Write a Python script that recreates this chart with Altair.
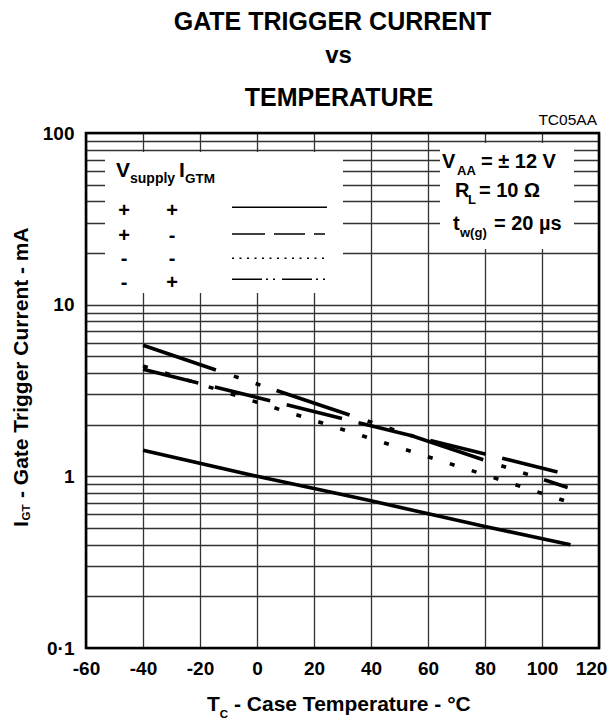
import glob
import altair as alt
import pandas as pd

# ---------------- data ----------------
x_ticks = [-60, -40, -20, 0, 20, 40, 60, 80, 100, 120]
x_tick_labels = ["-60", "-40", "-20", "0", "20", "40", "60", "80", "100", "120"]
y_grid = [0.1, 0.2, 0.3, 0.4, 0.5, 0.6, 0.7, 0.8, 0.9,
          1, 2, 3, 4, 5, 6, 7, 8, 9,
          10, 20, 30, 40, 50, 60, 70, 80, 90, 100]
y_tick_values = [0.1, 1, 10, 100]
y_tick_labels = ["0·1", "1", "10", "100"]

# V supply +, I GTM +  (solid)
temp_pp = [-40, 0, 40, 80, 110]
igt_pp = [1.42, 1.0, 0.72, 0.51, 0.40]
# V supply +, I GTM -  (long dash)
temp_pm = [-40, 0, 40, 80, 109]
igt_pm = [5.8, 3.45, 2.07, 1.24, 0.86]
# V supply -, I GTM -  (dotted)
temp_mm = [-40, 0, 40, 80, 108]
igt_mm = [4.4, 2.7, 1.66, 1.02, 0.72]
# V supply -, I GTM +  (dash-dot)
temp_mp = [-40, 0, 40, 80, 107.5]
igt_mp = [4.2, 2.88, 1.97, 1.35, 1.04]

legend_vsupply = ["+", "+", "-", "-"]
legend_igtm = ["+", "-", "-", "+"]

# ---------------- styling ----------------
FONT = "Liberation Sans, Arial, Helvetica, sans-serif"
narrow = bool(glob.glob("/usr/share/fonts/**/LiberationSansNarrow-Bold*", recursive=True)
              or glob.glob("/usr/local/share/fonts/**/LiberationSansNarrow-Bold*", recursive=True))
if narrow:
    TFONT = "Liberation Sans Narrow"
    TSIZE, TSUB = 25, 14
else:
    TFONT = FONT
    TSIZE, TSUB = 21, 11.5

GRID = "#333333"
W, H = 513, 515

plot_dash = [
    None,                      # solid
    [77, 19, 5, 18, 5, 17],    # long dash with two dots
    [5, 18],                   # dotted
    [57, 17],                  # dash, gap
]
legend_dash = [
    None,
    [33, 9, 31, 9, 11],
    [2, 5.5],
    [30, 4, 2, 5, 2, 7],
]

def expr_map(vals, labels):
    e = "''"
    for v, l in reversed(list(zip(vals, labels))):
        e = f"datum.value == {v} ? '{l}' : ({e})"
    return e

x_scale = alt.Scale(domain=[-60, 120], nice=False, zero=False)
y_scale = alt.Scale(type="log", domain=[0.1, 100], nice=False)

x_axis = alt.Axis(values=x_ticks, labelExpr=expr_map(x_ticks, x_tick_labels),
                  grid=True, gridColor=GRID, gridWidth=1.3, gridOpacity=1,
                  ticks=False, tickSize=0, domain=False, title=None,
                  labelFont=FONT, labelFontWeight="bold", labelFontSize=19,
                  labelColor="black", labelPadding=11, labelFlush=False,
                  labelOffset={"condition": {"test": f"datum.value == {x_ticks[-1]}", "value": -8},
                               "value": 0},
                  labelOverlap=False)
y_axis = alt.Axis(values=y_grid, labelExpr=expr_map(y_tick_values, y_tick_labels),
                  grid=True, gridColor=GRID, gridWidth=1.3, gridOpacity=1,
                  ticks=False, tickSize=0, domain=False, title=None,
                  labelFont=FONT, labelFontWeight="bold", labelFontSize=19,
                  labelColor="black", labelPadding=12, labelOverlap=False)

one = pd.DataFrame({"_": [0]})

def txt(s, x, y, size, font=FONT, weight="bold", align="left", angle=0):
    return alt.Chart(one).mark_text(
        text=s, font=font, fontSize=size, fontWeight=weight, color="black",
        align=align, baseline="alphabetic", angle=angle
    ).encode(x=alt.value(x), y=alt.value(y))

def box(x1, x2, y1, y2):
    return alt.Chart(one).mark_rect(fill="white", strokeWidth=0).encode(
        x=alt.value(x1), x2=alt.value(x2), y=alt.value(y1), y2=alt.value(y2))

layers = []

# white boxes hiding the grid behind the legend / conditions
layers.append(box(19, 257, 19, 160))
layers.append(box(354, 488, 10, 116))

# curves
series = [(temp_pp, igt_pp), (temp_pm, igt_pm), (temp_mm, igt_mm), (temp_mp, igt_mp)]
for (t, v), dash in zip(series, plot_dash):
    kw = dict(color="black", strokeWidth=3.6, strokeCap="butt", clip=True)
    if dash:
        kw["strokeDash"] = dash
    df = pd.DataFrame({"T": t, "I": v})
    layers.append(alt.Chart(df).mark_line(**kw).encode(
        x=alt.X("T:Q", scale=x_scale, axis=x_axis),
        y=alt.Y("I:Q", scale=y_scale, axis=y_axis)))

# plot border on top
layers.append(alt.Chart(one).mark_rect(fillOpacity=0, stroke="black", strokeWidth=2.6).encode(
    x=alt.value(0), x2=alt.value(W), y=alt.value(0), y2=alt.value(H)))

# legend box contents
layers.append(txt("V", 30, 44, 21))
layers.append(txt("supply", 44, 50, 14))
layers.append(txt("I", 93, 44, 21))
layers.append(txt("GTM", 99, 50, 13.5))
row_sign_y = [83.5, 108.5, 131.5, 155.5]
row_line_y = [74.3, 101, 125.3, 146.3]
for i in range(4):
    layers.append(txt(legend_vsupply[i], 38, row_sign_y[i], 20, align="center"))
    layers.append(txt(legend_igtm[i], 86, row_sign_y[i], 20, align="center"))
    kw = dict(color="black", strokeWidth=1.4, strokeCap="butt")
    if legend_dash[i]:
        kw["strokeDash"] = legend_dash[i]
    layers.append(alt.Chart(one).mark_rule(**kw).encode(
        x=alt.value(146), x2=alt.value(241), y=alt.value(row_line_y[i])))

# conditions box
layers.append(txt("V", 356, 35, 20))
layers.append(txt("AA", 371, 42, 13))
layers.append(txt("= ± 12 V", 395, 35, 20))
layers.append(txt("R", 369, 64, 20))
layers.append(txt("L", 382, 71, 13))
layers.append(txt("= 10 Ω", 393, 64, 20))
layers.append(txt("t", 367, 97, 20))
layers.append(txt("w(g)", 374, 104, 13))
layers.append(txt("= 20 µs", 408, 97, 20))

# titles
layers.append(txt("GATE TRIGGER CURRENT", 246.5, -103, 25, align="center"))
layers.append(txt("vs", 252.5, -70, 24, align="center"))
layers.append(txt("TEMPERATURE", 253, -27, 25, align="center"))
layers.append(txt("TC05AA", 511, -8, 15.5, weight="normal", align="right"))

# x-axis title
layers.append(txt("T", 121, 578, TSIZE, font=TFONT))
layers.append(txt("C", 133.8, 585, TSUB, font=TFONT))
layers.append(txt("- Case Temperature - °C", 148, 578, TSIZE, font=TFONT))

# y-axis title (rotated)
layers.append(txt("I", -57.7, 394, TSIZE, font=TFONT, angle=270))
layers.append(txt("GT", -56, 387.5, TSUB, font=TFONT, angle=270))
layers.append(txt("- Gate Trigger Current - mA", -57.7, 365, TSIZE, font=TFONT, angle=270))

chart = alt.layer(*layers).properties(
    width=W, height=H,
    autosize=alt.AutoSizeParams(type="none"),
    padding={"left": 78, "top": 125, "right": 9, "bottom": 72},
).configure_view(stroke=None)

chart.save("out.html", embed_options={"renderer": "svg", "actions": False})
